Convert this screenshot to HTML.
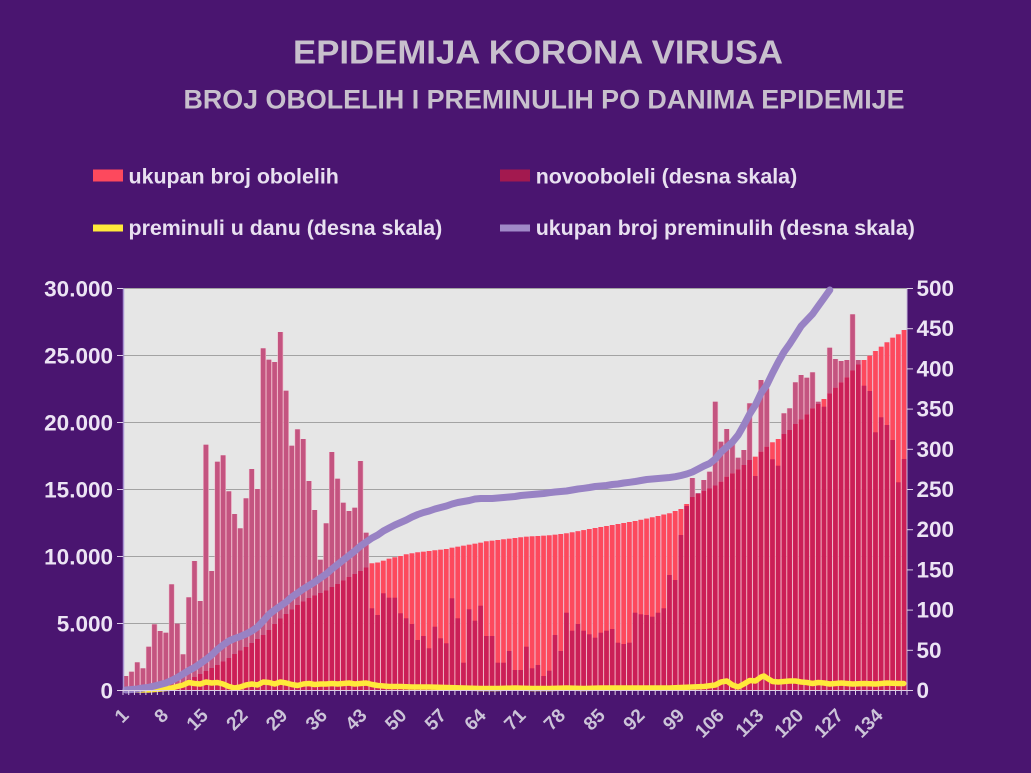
<!DOCTYPE html>
<html><head><meta charset="utf-8">
<style>
html,body{margin:0;padding:0;background:#4a1570;width:1031px;height:773px;overflow:hidden;}
svg{display:block;}
text{font-family:"Liberation Sans",Arial,sans-serif;font-weight:bold;}
</style></head>
<body>
<svg id="c" xmlns="http://www.w3.org/2000/svg" width="1031" height="773" viewBox="0 0 1031 773">
<rect width="1031" height="773" fill="#4a1570"/>
<text x="293" y="63.3" font-size="33" fill="#c8c0cd" textLength="490" lengthAdjust="spacingAndGlyphs">EPIDEMIJA KORONA VIRUSA</text>
<text x="183.5" y="108.3" font-size="27" fill="#c8c0cd" textLength="721" lengthAdjust="spacingAndGlyphs">BROJ OBOLELIH I PREMINULIH PO DANIMA EPIDEMIJE</text>

<rect x="93" y="169.5" width="30" height="12" fill="#fd495d"/>
<text x="128.5" y="183.5" font-size="21.4" fill="#e8e0f0">ukupan broj obolelih</text>
<rect x="500" y="169.5" width="30" height="12" fill="#a3194f"/>
<text x="535.7" y="183.5" font-size="21.4" fill="#e8e0f0">novooboleli (desna skala)</text>
<rect x="93" y="224.5" width="30" height="7" fill="#ffe93a"/>
<text x="128.5" y="235" font-size="21.4" fill="#e8e0f0">preminuli u danu (desna skala)</text>
<rect x="500" y="224.5" width="30" height="7" fill="#a089c8"/>
<text x="535.7" y="235" font-size="21.4" fill="#e8e0f0">ukupan broj preminulih (desna skala)</text>

<rect x="123" y="288" width="784" height="402" fill="#e6e6e6"/>
<g stroke="#a3a3a3" stroke-width="1">
<line x1="123" y1="288.5" x2="907" y2="288.5"/>
<line x1="123" y1="355.5" x2="907" y2="355.5"/>
<line x1="123" y1="422.5" x2="907" y2="422.5"/>
<line x1="123" y1="489.5" x2="907" y2="489.5"/>
<line x1="123" y1="556.5" x2="907" y2="556.5"/>
<line x1="123" y1="623.5" x2="907" y2="623.5"/>
</g>
<g id="bars"></g>
<polyline fill="none" stroke="#ffe93a" stroke-width="5.5" stroke-linejoin="round" stroke-linecap="round" points="125.9,689.5 137.3,690 148.7,690 160.2,689 171.6,688 177.4,686.5 183.1,685 188.8,682.5 194.5,683.5 200.3,684 206,682 211.7,683 217.4,682.5 223.1,684 228.9,686.5 234.6,688 240.3,687 246,685 251.8,684 257.5,685 263.2,682 268.9,682.5 274.7,684 280.4,682 286.1,683 291.8,684.5 297.6,685.5 303.3,684 309,683.5 314.7,684.5 320.4,684 326.2,684 331.9,683.5 337.6,684 343.3,683.5 349.1,683 354.8,684 360.5,683.5 366.2,683 372,684.5 377.7,685.5 383.4,686 389.1,686.5 400.6,686.5 412,687 429.2,687 446.4,687.5 463.5,688 480.7,688.5 497.9,688.5 515,688 532.2,688.5 549.4,688.5 566.5,688 583.7,688.5 600.9,688 618,688 635.2,688 652.4,688 669.6,688 681,687.5 692.4,687 703.9,686.5 715.3,685 721.1,682 726.8,681 732.5,685 738.2,687 743.9,684 749.7,680.5 755.4,681 761.1,677 764,676 766.8,678 772.6,681.5 778.3,682 784,681.5 789.7,681 795.5,681 801.2,682 806.9,682.5 812.6,683.5 818.3,682.5 824.1,683 829.8,684 841.3,683 852.7,684 864.2,683.5 875.6,684 887,683 898.5,683.5 903.7,683.5"/>
<polyline fill="none" stroke="#9882c4" stroke-width="7" stroke-linejoin="round" stroke-linecap="round" points="125.9,690 131.6,689.5 137.3,689 143,688 148.7,687.3 154.5,686 160.2,684.5 165.9,683 171.6,680.5 177.4,677.5 183.1,674 188.8,670.5 194.5,667.5 200.3,663.5 206,659.5 211.7,655 217.4,649.5 223.1,645 228.9,641 234.6,638.5 240.3,636.5 246,634 251.8,631 257.5,627 263.2,621 268.9,614.5 274.7,610 280.4,606 286.1,602 291.8,597 297.6,593 303.3,589 309,585.5 314.7,582 320.4,578 326.2,574 331.9,569 337.6,564.5 343.3,560 349.1,555.5 354.8,551 360.5,546 366.2,542 372,538 377.7,535 383.4,531 389.1,528 394.9,525 400.6,522.5 406.3,520 412,517 417.8,514.5 423.5,512.5 429.2,511 434.9,509 440.6,507.5 446.4,506 452.1,504 457.8,502.5 463.5,501.5 469.3,500.5 475,499 480.7,498.5 486.4,498.5 492.2,498.5 497.9,498 503.6,497.5 509.3,497 515,496.5 520.8,495.5 526.5,495 532.2,494.5 537.9,494 543.7,493.5 549.4,492.7 555.1,492 560.8,491.5 566.5,491 572.3,490 578,489 583.7,488.3 589.4,487.5 595.2,486.5 600.9,486 606.6,485.5 612.3,484.5 618,484 623.8,483 629.5,482.3 635.2,481.5 640.9,480.5 646.7,479.5 652.4,479 658.1,478.5 663.8,478 669.6,477.5 675.3,476.7 681,475.5 686.7,474 692.4,472 698.2,469 703.9,466 709.6,463.5 715.3,459 721.1,452 726.8,447 732.5,442 738.2,435 743.9,425 749.7,414 755.4,405 761.1,393 766.8,385 772.6,373 778.3,362 784,352 789.7,344 795.5,335 801.2,326 806.9,320 812.6,314 818.3,306 824.1,298 829.8,290"/>

<line x1="123.5" y1="288" x2="123.5" y2="690" stroke="#a993d2" stroke-width="1.5"/>
<line x1="907" y1="288" x2="907" y2="690" stroke="#c9b9dc" stroke-width="1"/>
<g id="ticks" stroke="#ddd0e6" stroke-width="1"></g>

<g font-size="22.5" fill="#ece4f4" text-anchor="end">
<text x="113" y="296.5">30.000</text>
<text x="113" y="363.5">25.000</text>
<text x="113" y="430.5">20.000</text>
<text x="113" y="497.5">15.000</text>
<text x="113" y="564.5">10.000</text>
<text x="113" y="631.5">5.000</text>
<text x="113" y="698.5">0</text>
</g>
<g font-size="22.5" fill="#ece4f4">
<text x="916.5" y="296">500</text>
<text x="916.5" y="336.2">450</text>
<text x="916.5" y="376.4">400</text>
<text x="916.5" y="416.6">350</text>
<text x="916.5" y="456.8">300</text>
<text x="916.5" y="497">250</text>
<text x="916.5" y="537.2">200</text>
<text x="916.5" y="577.4">150</text>
<text x="916.5" y="617.6">100</text>
<text x="916.5" y="657.8">50</text>
<text x="916.5" y="698">0</text>
</g>
<g font-size="19" fill="#cbc3d8" text-anchor="end">
<text transform="translate(129.9,716.5) rotate(-45)">1</text>
<text transform="translate(169.5,716.5) rotate(-45)">8</text>
<text transform="translate(209.2,716.5) rotate(-45)">15</text>
<text transform="translate(248.9,716.5) rotate(-45)">22</text>
<text transform="translate(288.6,716.5) rotate(-45)">29</text>
<text transform="translate(328.3,716.5) rotate(-45)">36</text>
<text transform="translate(368,716.5) rotate(-45)">43</text>
<text transform="translate(407.7,716.5) rotate(-45)">50</text>
<text transform="translate(447.4,716.5) rotate(-45)">57</text>
<text transform="translate(487.1,716.5) rotate(-45)">64</text>
<text transform="translate(526.8,716.5) rotate(-45)">71</text>
<text transform="translate(566.5,716.5) rotate(-45)">78</text>
<text transform="translate(606.2,716.5) rotate(-45)">85</text>
<text transform="translate(645.9,716.5) rotate(-45)">92</text>
<text transform="translate(685.6,716.5) rotate(-45)">99</text>
<text transform="translate(725.2,716.5) rotate(-45)">106</text>
<text transform="translate(764.9,716.5) rotate(-45)">113</text>
<text transform="translate(804.6,716.5) rotate(-45)">120</text>
<text transform="translate(844.3,716.5) rotate(-45)">127</text>
<text transform="translate(884,716.5) rotate(-45)">134</text>
</g>
</svg>
<script>
(function(){
var NS="http://www.w3.org/2000/svg";
var N=137,L=123,W=784/137,B=690;
var nw=[676,671.7,662.3,668.3,646.7,624.3,631,632.7,584.3,623.7,654.3,597.3,561,601,444.7,571,461.7,455.3,491.3,514,528.3,498.3,469,489,348.3,359.7,362,332,390.7,445.7,429.3,439,481,510,559.7,523.3,452,478.7,502.7,511,507.7,461,532.7,608.3,615,593.3,597.7,597.7,613.3,618.3,624,640,636,648.3,626.7,638.3,643.3,598.3,618.3,662.7,609.3,620.7,605.7,636,636,662.7,662.7,651,670,670,646.7,668.3,665,676,670.7,635,651,612.7,630.7,624,630.7,634.3,637.7,632.7,630.7,629,642.7,644,642.7,612.7,614.3,615,616.7,612.7,608.3,575,580,535,506,478,493,480,471.7,401.7,441.7,429,443.3,457.7,450,403.3,476,380,388.3,459.3,465.7,413.3,408.3,382.3,375,377.7,372.3,401.7,406.7,347.7,359,361,360,314.3,360,385.7,391,432.3,417.3,425,440,482.3,459];
var cu=[689.5,689.2,688.8,688.4,688,687.4,686.7,686,685,684,682,679.5,677,674,671,668,665,661.5,658,654,650.5,647,643,639,635,630,624,618.5,614,609.5,605,601.5,598,595.5,593,590.5,587,584,580.5,577,574,571,567.5,563.3,562.5,560.7,558.7,557.3,556,554.3,553.3,552.3,551.7,551,550.3,549.7,549,547.7,546.7,545.7,544.7,543.7,542.7,541.3,540.7,540,539.3,538.7,538,537.3,536.7,536.3,536,535.7,535.3,534.7,534,533.3,532.3,531.2,530.1,529,528,527,526,525,524,523,522,521,519.8,518.6,517.3,516,514.5,513.3,511,509,504,497,494,491,488.5,485.5,481.7,476.7,473.3,469.3,465,460,456.7,451.7,446.7,442.3,439,434,430,424,419.3,414.3,408.3,404,399,393.3,387.7,382.3,377.3,370.5,364.5,360,355.7,351,346.7,342.3,337.7,334.3,330];
var g=document.getElementById('bars');
function r(x,y,w,h,f){if(h<=0)return;var e=document.createElementNS(NS,'rect');e.setAttribute('x',x.toFixed(2));e.setAttribute('y',y.toFixed(2));e.setAttribute('width',w.toFixed(2));e.setAttribute('height',h.toFixed(2));e.setAttribute('fill',f);g.appendChild(e);}
for(var i=0;i<N;i++){
 var x=L+i*W,c=cu[i],n=nw[i],t=Math.min(c,n);
 r(x,t,W,B-t,'#efb4c6');
 var bx=x+0.5,bw=W-1.1;
 r(bx,c,bw,B-c,'#fd495d');
 var o=Math.max(n,c);
 r(bx,o,bw,B-o,'#cb1f57');
 if(n<c) r(bx,n,bw,c-n,'#c45480');
}
var tk=document.getElementById('ticks');
function ln(x1,y1,x2,y2){var e=document.createElementNS(NS,'line');e.setAttribute('x1',x1);e.setAttribute('y1',y1);e.setAttribute('x2',x2);e.setAttribute('y2',y2);tk.appendChild(e);}
for(var k=0;k<=N;k++){var xx=(L+k*W).toFixed(2);ln(xx,690,xx,695);}
ln(123,690.5,907,690.5);
for(var k=0;k<=6;k++){var yy=690-k*67+0.5;ln(117,yy,123,yy);}
for(var k=0;k<=10;k++){var yy=(690-k*40.2+0.5).toFixed(2);ln(907,yy,913,yy);}
})();
</script>
</body></html>
